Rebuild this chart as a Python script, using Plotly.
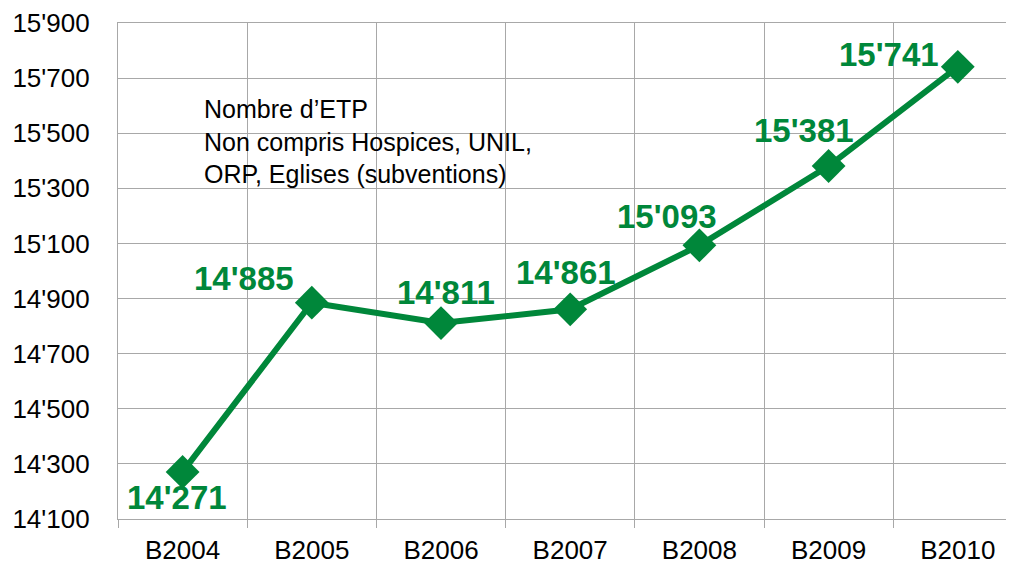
import plotly.graph_objects as go

categories = ["B2004", "B2005", "B2006", "B2007", "B2008", "B2009", "B2010"]
etp_values = [14271, 14885, 14811, 14861, 15093, 15381, 15741]
value_labels = ["14'271", "14'885", "14'811", "14'861", "15'093", "15'381", "15'741"]
y_tick_values = [14100, 14300, 14500, 14700, 14900, 15100, 15300, 15500, 15700, 15900]
y_tick_labels = ["14'100", "14'300", "14'500", "14'700", "14'900", "15'100",
                 "15'300", "15'500", "15'700", "15'900"]
note_lines = ["Nombre d\u2019ETP", "Non compris Hospices, UNIL,", "ORP, Eglises (subventions)"]

# label offsets in pixels (style)
label_dx = [-6, -68, 5, -4, -32, -25, -69]
label_dy = [-26, 24, 31, 37, 29, 36, 12]

GREEN = "#00873A"
GRID = "#a8a8a8"
FONT = "Liberation Sans, Arial, sans-serif"

# page has an 8px body margin; plot area in page: x 118..1022, y 23..519
L, T, PW, PH = 110, 15, 896, 496

fig = go.Figure()
fig.add_trace(go.Scatter(
    x=categories, y=etp_values, mode="lines+markers",
    line=dict(color=GREEN, width=6),
    marker=dict(symbol="diamond", size=26, color=GREEN),
    hoverinfo="skip", showlegend=False,
))

for c, v, t, dx, dy in zip(categories, etp_values, value_labels, label_dx, label_dy):
    fig.add_annotation(
        x=c, y=v, text=t, showarrow=False, xshift=dx, yshift=dy,
        font=dict(family=FONT, size=33, color=GREEN, weight="bold"),
        xanchor="center", yanchor="middle",
    )

# white note box (page coords converted to paper fractions)
fig.add_shape(type="rect", xref="paper", yref="paper",
              x0=(184 - 118) / PW, x1=(577 - 118) / PW,
              y0=(519 - 196) / PH, y1=(519 - 80) / PH,
              fillcolor="white", line=dict(width=0), layer="between")
fig.add_annotation(
    xref="paper", yref="paper", x=(202 - 118) / PW, y=(519 - 141) / PH,
    xanchor="left", yanchor="middle", align="left", showarrow=False,
    text="<br>".join(note_lines),
    font=dict(family=FONT, size=25, color="black"),
)

fig.update_layout(
    width=1006, height=558,
    margin=dict(l=L, r=0, t=T, b=558 - T - PH),
    paper_bgcolor="white", plot_bgcolor="white",
    font=dict(family=FONT, size=26, color="black"),
    xaxis=dict(
        type="category", range=[-0.5, 6.435],
        tickson="boundaries", ticks="outside", ticklen=8, tickcolor=GRID, tickwidth=1.3,
        showgrid=True, gridcolor=GRID, gridwidth=1.3,
        showline=True, linecolor=GRID, linewidth=1.3, mirror=True,
        tickfont=dict(size=26), ticklabelstandoff=8,
    ),
    yaxis=dict(
        range=[14100, 15900], tickmode="array", tickvals=y_tick_values, ticktext=y_tick_labels,
        showgrid=True, gridcolor=GRID, gridwidth=1.3,
        showline=True, linecolor=GRID, linewidth=1.3,
        ticks="", tickfont=dict(size=26), ticklabelstandoff=22, zeroline=False,
    ),
)

fig.write_html("out.html")
